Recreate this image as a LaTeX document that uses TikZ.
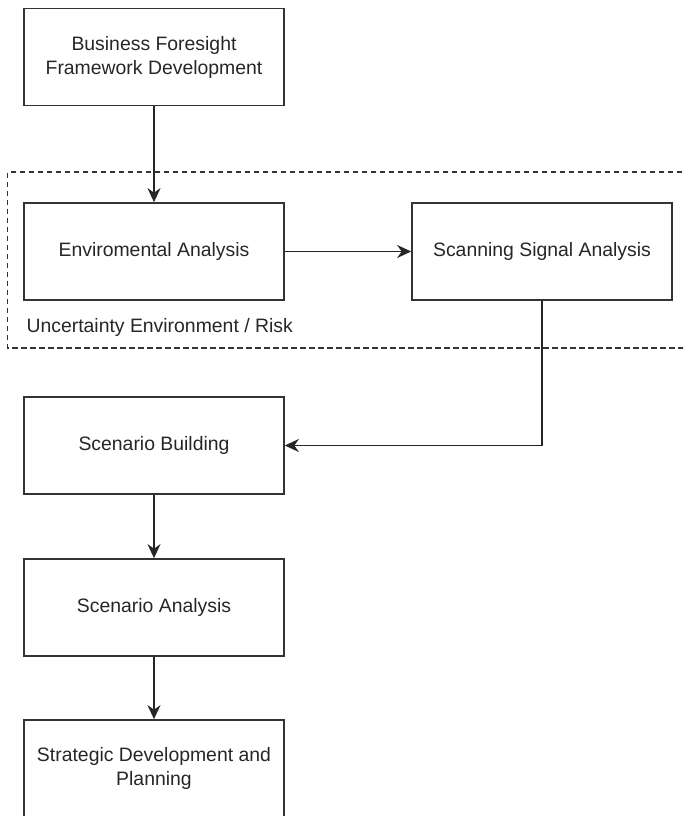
\documentclass[tikz,border=0pt]{standalone}
\usepackage{fontspec}
\setmainfont{Liberation Sans}
\usetikzlibrary{arrows.meta}
\begin{document}
\begin{tikzpicture}[x=1pt,y=-1pt,
  every node/.style={text=black!85},
  procbox/.style={draw=black!80, line width=1.7pt, minimum width=260pt, minimum height=97pt,
    inner sep=0pt, align=center, font=\fontsize{19.4}{24}\selectfont},
  link/.style={draw=black!85, line width=1.6pt, -{Stealth[length=14pt,width=13pt,inset=4.5pt]}},
  zone/.style={draw=black!80, line width=1.4pt, dash pattern=on 5.5pt off 3.5pt}]
\useasboundingbox (0,0) rectangle (683,816);
\begin{scope}
\clip (0,0) rectangle (683,816);
% dashed region, open to the right
\draw[zone] (700,172) -- (7.5,172) -- (7.5,348) -- (700,348);

\node[procbox] (bf) at (154,57) {Business Foresight\\Framework Development};
\node[procbox] (ea) at (154,251.5) {Enviromental Analysis};
\node[procbox] (ss) at (542,251.5) {Scanning Signal Analysis};
\node[anchor=west, font=\fontsize{19.4}{24}\selectfont] (risk) at (23,327) {Uncertainty Environment / Risk};
\node[procbox] (sb) at (154,445.5) {Scenario Building};
\node[procbox] (sa) at (154,607.5) {Scenario Analysis};
\node[procbox] (sd) at (154,768.5) {Strategic Development and\\Planning};

\draw[link] (bf) -- (ea);
\draw[link] (ea) -- (ss);
\draw[link] (ss.south) |- (sb.east);
\draw[link] (sb) -- (sa);
\draw[link] (sa) -- (sd);
\end{scope}
\end{tikzpicture}
\end{document}
